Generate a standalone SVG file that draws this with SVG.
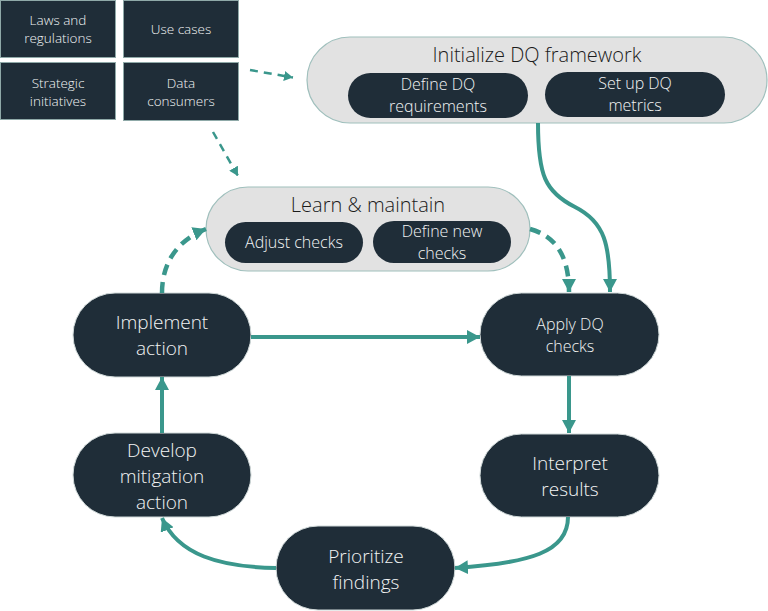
<svg xmlns="http://www.w3.org/2000/svg" width="768" height="611" viewBox="0 0 768 611">
<defs>
<style>
.box{fill:#1f2d38;stroke:#8fa9a8;stroke-width:1}
.node{fill:#1f2d38;stroke:#cfd8d8;stroke-width:1}
.sub{fill:#1f2d38}
.cont{fill:#e2e2e2;stroke:#9fbfbc;stroke-width:1.2}
.t{font-family:"Open Sans","Noto Sans","Liberation Sans",sans-serif;font-weight:300;fill:#f2f4f4;text-anchor:middle}
.tc{font-family:"Open Sans","Noto Sans","Liberation Sans",sans-serif;font-weight:300;fill:#1b1b1b;text-anchor:middle;font-size:20px}
.s{font-size:13.5px}
.m{font-size:19px}
.ms{font-size:16px}
.c{fill:none;stroke:#3a978c}
.solid{stroke-width:4}
.dthick{stroke-width:4.5;stroke-dasharray:11 7}
.dthin{stroke-width:2.5;stroke-dasharray:8 6}
</style>
<marker id="ah" markerUnits="userSpaceOnUse" markerWidth="14" markerHeight="14" refX="13" refY="7" orient="auto"><path d="M0,0 L13,7 L0,14 z" fill="#3a978c"/></marker>
<marker id="ahs" markerUnits="userSpaceOnUse" markerWidth="10" markerHeight="10" refX="9" refY="5" orient="auto"><path d="M0,0 L9,5 L0,10 z" fill="#3a978c"/></marker>
</defs>
<rect width="768" height="611" fill="#ffffff"/>

<g id="laws"><rect class="box" x="0.5" y="0.5" width="115" height="57"/><text class="t s" x="58" y="25">Laws and</text><text class="t s" x="58" y="43">regulations</text></g>
<g id="usecases"><rect class="box" x="123.5" y="0.5" width="115" height="57"/><text class="t s" x="181" y="34">Use cases</text></g>
<g id="strategic"><rect class="box" x="0.5" y="62.5" width="115" height="57"/><text class="t s" x="58" y="88">Strategic</text><text class="t s" x="58" y="106">initiatives</text></g>
<g id="consumers"><rect class="box" x="123.5" y="62.5" width="115" height="58"/><text class="t s" x="181" y="88">Data</text><text class="t s" x="181" y="106">consumers</text></g>

<g id="init">
<rect class="cont" x="307" y="37" width="460" height="86" rx="43"/>
<text class="tc" x="537" y="62">Initialize DQ framework</text>
<g id="define-req"><rect class="sub" x="348" y="73" width="180" height="45" rx="22.5"/><text class="t ms" x="438" y="90">Define DQ</text><text class="t ms" x="438" y="112">requirements</text></g>
<g id="setup-metrics"><rect class="sub" x="545" y="72" width="180" height="45" rx="22.5"/><text class="t ms" x="635" y="89">Set up DQ</text><text class="t ms" x="635" y="111">metrics</text></g>
</g>

<g id="learn">
<rect class="cont" x="206" y="187" width="324" height="84" rx="42"/>
<text class="tc" x="368" y="212">Learn &amp; maintain</text>
<g id="adjust"><rect class="sub" x="225" y="222" width="138" height="41" rx="20.5"/><text class="t ms" x="294" y="248">Adjust checks</text></g>
<g id="define-new"><rect class="sub" x="373" y="221" width="138" height="42" rx="21"/><text class="t ms" x="442" y="237">Define new</text><text class="t ms" x="442" y="259">checks</text></g>
</g>

<g id="implement"><rect class="node" x="73" y="293" width="178" height="84" rx="42"/><text class="t m" x="162" y="329">Implement</text><text class="t m" x="162" y="355">action</text></g>
<g id="apply"><rect class="node" x="480" y="293" width="179" height="83" rx="41.5"/><text class="t ms" x="570" y="330">Apply DQ</text><text class="t ms" x="570" y="352">checks</text></g>
<g id="interpret"><rect class="node" x="480" y="434" width="179" height="83" rx="41.5"/><text class="t m" x="570" y="470">Interpret</text><text class="t m" x="570" y="496">results</text></g>
<g id="prioritize"><rect class="node" x="276" y="526" width="179" height="84" rx="42"/><text class="t m" x="366" y="563">Prioritize</text><text class="t m" x="366" y="589">findings</text></g>
<g id="develop"><rect class="node" x="73" y="433" width="178" height="84" rx="42"/><text class="t m" x="162" y="457">Develop</text><text class="t m" x="162" y="483">mitigation</text><text class="t m" x="162" y="509">action</text></g>

<g id="connectors">
<path class="c dthin" d="M250,70 L293,77.5" marker-end="url(#ahs)"/>
<path class="c dthin" d="M213,132 L238,176" marker-end="url(#ahs)"/>
<path class="c solid" d="M538,123 C538,175 545,192 575,207 C605,222 610,245 610,292" marker-end="url(#ah)"/>
<path class="c dthick" d="M530,229 C555,236 569,255 569,292" marker-end="url(#ah)"/>
<path class="c dthick" d="M162,293 C162,262 178,240 206,229" marker-end="url(#ah)"/>
<path class="c solid" d="M251,337 L480,337" marker-end="url(#ah)"/>
<path class="c solid" d="M569,376 L569,433" marker-end="url(#ah)"/>
<path class="c solid" d="M568,517 C568,552 530,563 455,568" marker-end="url(#ah)"/>
<path class="c solid" d="M276,568 C220,567 178,555 162,518" marker-end="url(#ah)"/>
<path class="c solid" d="M162,433 L162,377" marker-end="url(#ah)"/>
</g>
</svg>
